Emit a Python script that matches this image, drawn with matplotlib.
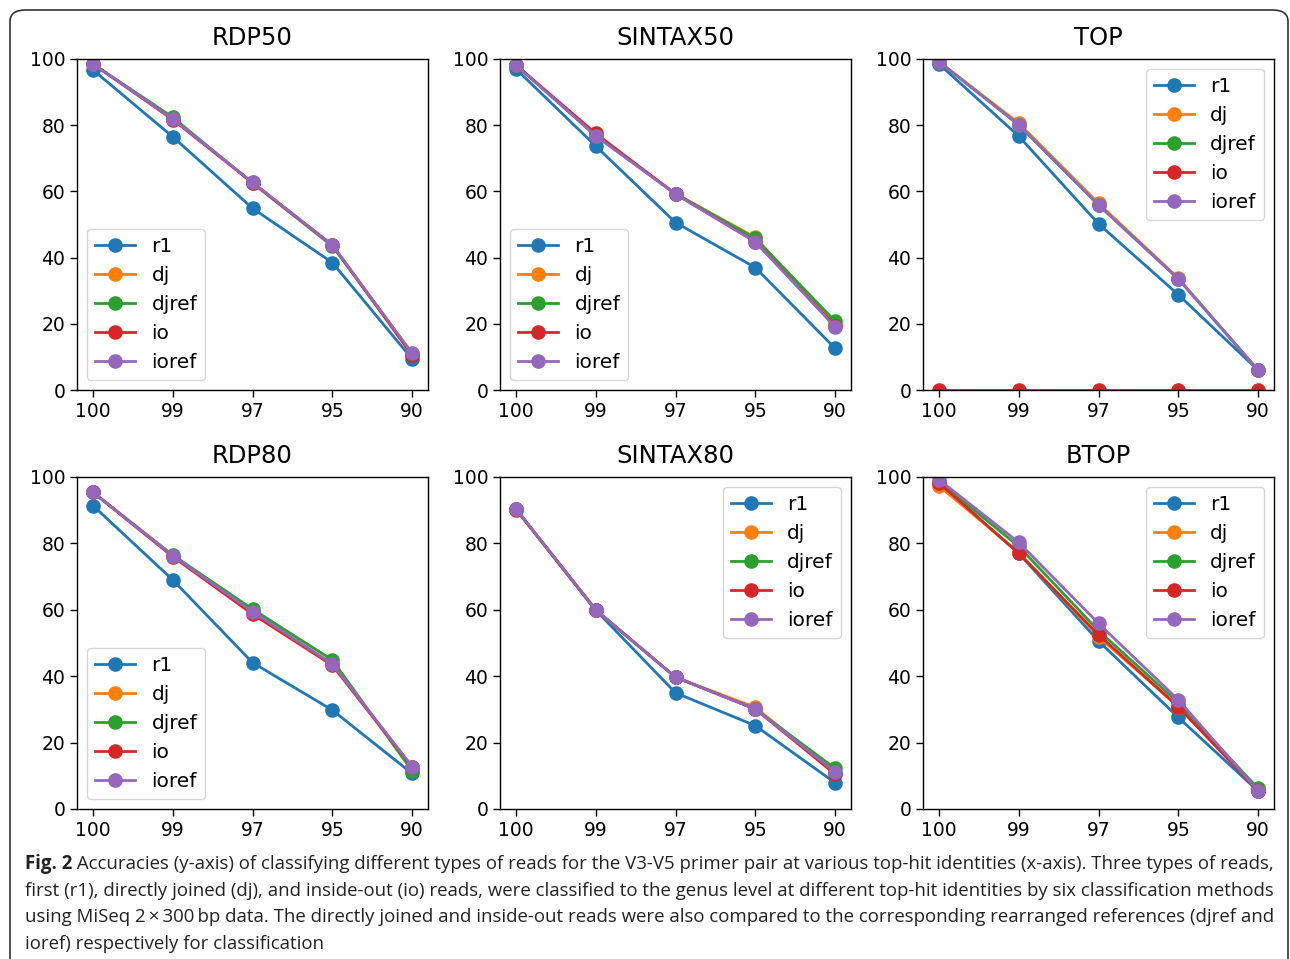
import matplotlib
matplotlib.use("Agg")
import matplotlib.pyplot as plt
from matplotlib.patches import FancyBboxPatch

# ---------------- data ----------------
x_labels = ["100", "99", "97", "95", "90"]
series_names = ["r1", "dj", "djref", "io", "ioref"]
colors = ["#1f77b4", "#ff7f0e", "#2ca02c", "#d62728", "#9467bd"]

rdp50_r1 = [96.7, 76.5, 54.9, 38.5, 9.4]
rdp50_dj = [98.5, 81.9, 62.7, 43.8, 11.0]
rdp50_djref = [98.5, 82.4, 62.5, 43.5, 11.0]
rdp50_io = [98.5, 81.7, 62.6, 43.8, 10.5]
rdp50_ioref = [98.5, 81.9, 62.7, 43.8, 11.1]

sintax50_r1 = [97.0, 73.7, 50.6, 37.0, 12.6]
sintax50_dj = [98.2, 76.9, 59.3, 46.1, 19.6]
sintax50_djref = [98.2, 76.8, 59.3, 45.8, 20.8]
sintax50_io = [98.2, 77.5, 59.2, 44.8, 19.3]
sintax50_ioref = [98.2, 76.8, 59.2, 44.8, 19.1]

top_r1 = [98.5, 76.7, 50.2, 28.8, 6.0]
top_dj = [99.2, 80.6, 56.4, 33.8, 6.0]
top_djref = [99.2, 80.1, 55.9, 33.6, 6.0]
top_io = [0.0, 0.0, 0.0, 0.0, 0.0]
top_ioref = [99.2, 80.1, 55.9, 33.6, 6.0]

rdp80_r1 = [91.4, 69.0, 44.1, 29.8, 10.7]
rdp80_dj = [95.4, 76.3, 59.4, 43.7, 12.8]
rdp80_djref = [95.4, 76.5, 60.2, 44.9, 11.5]
rdp80_io = [95.4, 76.0, 58.7, 43.3, 12.6]
rdp80_ioref = [95.4, 76.3, 59.4, 43.7, 12.8]

sintax80_r1 = [90.4, 59.9, 35.0, 25.1, 7.9]
sintax80_dj = [90.4, 60.0, 39.7, 30.6, 11.2]
sintax80_djref = [90.4, 59.8, 39.7, 30.1, 12.2]
sintax80_io = [90.2, 60.0, 39.7, 30.1, 10.5]
sintax80_ioref = [90.4, 60.0, 39.7, 30.1, 11.2]

btop_r1 = [98.1, 77.0, 50.6, 27.6, 5.4]
btop_dj = [97.3, 77.3, 51.9, 30.8, 5.7]
btop_djref = [98.6, 79.1, 53.7, 32.0, 6.2]
btop_io = [98.2, 77.0, 52.5, 30.8, 5.5]
btop_ioref = [99.2, 80.3, 55.9, 32.9, 5.5]

panel_titles = ["RDP50", "SINTAX50", "TOP", "RDP80", "SINTAX80", "BTOP"]
panel_data = [
    [rdp50_r1, rdp50_dj, rdp50_djref, rdp50_io, rdp50_ioref],
    [sintax50_r1, sintax50_dj, sintax50_djref, sintax50_io, sintax50_ioref],
    [top_r1, top_dj, top_djref, top_io, top_ioref],
    [rdp80_r1, rdp80_dj, rdp80_djref, rdp80_io, rdp80_ioref],
    [sintax80_r1, sintax80_dj, sintax80_djref, sintax80_io, sintax80_ioref],
    [btop_r1, btop_dj, btop_djref, btop_io, btop_ioref],
]
legend_locs = ["lower left", "lower left", "upper right",
               "lower left", "upper right", "upper right"]

caption_bold = "Fig. 2"
caption_lines = [
    " Accuracies (y-axis) of classifying different types of reads for the V3-V5 primer pair at various top-hit identities (x-axis). Three types of reads,",
    "first (r1), directly joined (dj), and inside-out (io) reads, were classified to the genus level at different top-hit identities by six classification methods",
    "using MiSeq 2\u2009\u00d7\u2009300\u2009bp data. The directly joined and inside-out reads were also compared to the corresponding rearranged references (djref and",
    "ioref) respectively for classification",
]

# ---------------- figure ----------------
W, H = 1290, 959
plt.rcParams["font.family"] = ["DejaVu Sans"]
fig = plt.figure(figsize=(W / 100, H / 100), dpi=100)

# outer rounded frame
frame = FancyBboxPatch((10 / W, -30 / H), 1278 / W, 979 / H,
                       boxstyle="round,pad=0,rounding_size=0.012",
                       transform=fig.transFigure, facecolor="none",
                       edgecolor="#333333", linewidth=1.2)
fig.patches.append(frame)

col_left = [77, 500, 923]
ax_w = 351
rows = [(59, 390), (477, 809)]

for i in range(6):
    r, c = divmod(i, 3)
    top, bot = rows[r]
    ax = fig.add_axes([col_left[c] / W, 1 - bot / H, ax_w / W, (bot - top) / H])
    xs = list(range(len(x_labels)))
    for name, vals, col in zip(series_names, panel_data[i], colors):
        ax.plot(xs, vals, "-o", color=col, label=name, linewidth=2.0,
                markersize=9.5)
    ax.set_ylim(0, 100)
    ax.set_xlim(-0.2, 4.2)
    ax.set_xticks(xs)
    ax.set_xticklabels(x_labels)
    ax.set_yticks([0, 20, 40, 60, 80, 100])
    ax.tick_params(labelsize=13.5, length=5, width=1.0)
    for s in ax.spines.values():
        s.set_linewidth(1.0)
    ax.set_title(panel_titles[i], fontsize=17.5, pad=10)
    ax.legend(loc=legend_locs[i], fontsize=14.5, handlelength=2.0,
              borderaxespad=0.5, labelspacing=0.5)

# ---------------- caption ----------------
cap_font = "Open Sans"
fig.canvas.draw()
renderer = fig.canvas.get_renderer()

target_width = 1240.0
probe = fig.text(0, 0, caption_lines[1], fontsize=12, family=cap_font)
wpx = probe.get_window_extent(renderer).width
probe.remove()
cap_size = 12 * target_width / wpx

line_y = [864, 891, 917, 944]
x0 = 25
tb = fig.text(x0 / W, 1 - line_y[0] / H, caption_bold, fontsize=cap_size,
              family=cap_font, fontweight="bold", va="center", ha="left",
              color="#222222")
bw = tb.get_window_extent(renderer).width
fig.text((x0 + bw) / W, 1 - line_y[0] / H, caption_lines[0], fontsize=cap_size,
         family=[cap_font, "DejaVu Sans"], va="center", ha="left", color="#222222")
for k in range(1, 4):
    fig.text(x0 / W, 1 - line_y[k] / H, caption_lines[k], fontsize=cap_size,
             family=[cap_font, "DejaVu Sans"], va="center", ha="left",
             color="#222222")

fig.savefig("out.png", dpi=100)
